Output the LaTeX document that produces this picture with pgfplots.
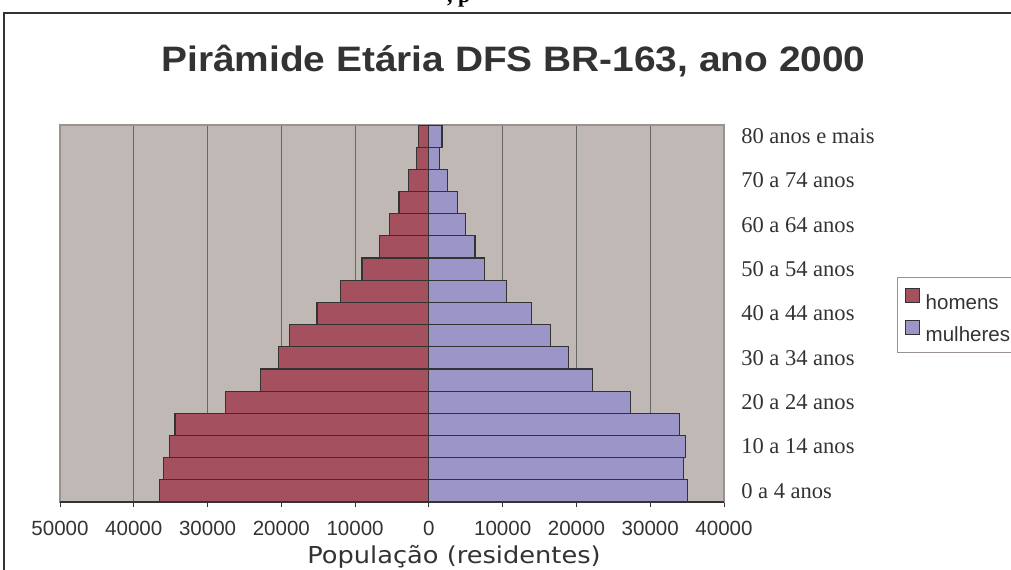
\documentclass[border=0pt]{standalone}
\usepackage{pgfplots}
\pgfplotsset{compat=1.18}
\usepackage{fontspec}
\setmainfont{Liberation Sans}
\newfontfamily\titlefont{Liberation Sans}[FakeStretch=1.1]
\newfontfamily\catfont{Liberation Serif}
\newfontfamily\lblfont{DejaVu Sans}[FakeStretch=1.1]
\definecolor{homcol}{HTML}{A5505E}
\definecolor{mulcol}{HTML}{9B95C8}
\definecolor{bgcol}{HTML}{C0B8B5}
\definecolor{bardraw}{HTML}{333333}
\definecolor{gridcol}{HTML}{666666}
\definecolor{framecol}{HTML}{9A9290}
\begin{document}
\begin{tikzpicture}
\useasboundingbox (0,0) rectangle (758.25pt,426.75pt);
\draw[line width=1.1pt, color=bardraw] (3pt,-5pt) -- (3pt,417pt) -- (800pt,417pt);
\node[anchor=base, font={\catfont\bfseries\fontsize{16.5pt}{18pt}\selectfont}] at (344pt,424.5pt) {, p};
\node[anchor=base, font={\titlefont\bfseries\fontsize{26.5pt}{30pt}\selectfont}, color=bardraw] at (385.1pt,372.75pt) {Pirâmide Etária DFS BR-163, ano 2000};
\node[anchor=base, font={\lblfont\fontsize{17.5pt}{20pt}\selectfont}, color=bardraw] at (340.5pt,4.3pt) {População (residentes)};
\begin{axis}[
  at={(45pt,50.25pt)}, anchor=south west,
  scale only axis, width=498pt, height=282.75pt,
  xmin=-50000, xmax=40000, ymin=-0.5, ymax=16.5,
  xtick={-50000,-40000,...,40000},
  xticklabels={50000,40000,30000,20000,10000,0,10000,20000,30000,40000},
  scaled x ticks=false,
  xtick pos=left,
  xtick align=outside,
  major tick length=3.75pt,
  xtick style={draw=bardraw, line width=0.6pt},
  xticklabel style={font={\fontsize{15.4pt}{17pt}\selectfont}, color=bardraw, inner sep=0pt, yshift=-10.5pt},
  ytick={0,2,...,16},
  yticklabels={0 a 4 anos,10 a 14 anos,20 a 24 anos,30 a 34 anos,40 a 44 anos,50 a 54 anos,60 a 64 anos,70 a 74 anos,80 anos e mais},
  yticklabel pos=right,
  ytick style={draw=none},
  yticklabel style={font={\catfont\fontsize{16.9pt}{19pt}\selectfont}, color=bardraw, anchor=west, inner sep=0pt, xshift=12.75pt},
  xmajorgrids,
  major grid style={draw=gridcol, line width=0.7pt},
  axis background/.style={fill=bgcol},
  axis line style={draw=framecol, line width=0.8pt},
  legend style={at={(axis description cs:1.2605,0.5968)}, anchor=north west,
    draw=framecol, fill=white, line width=0.8pt,
    font={\fontsize{15.4pt}{17pt}\selectfont},
    inner xsep=5.25pt, inner ysep=8pt, row sep=7.5pt,
    nodes={inner sep=0pt, text height=10.5pt, text depth=0pt, text=bardraw},
    /tikz/every odd column/.append style={column sep=4.5pt}},
  legend cell align=left,
  legend image code/.code={\draw[#1, line width=0.9pt] (0pt,0pt) rectangle (10.5pt,10.5pt);},
  after end axis/.code={\draw[bardraw, line width=0.8pt] (axis cs:-50000,-0.5) -- (axis cs:40000,-0.5);},
]
\addplot[xbar, bar width=1, bar shift=0pt, fill=homcol, draw=bardraw, line width=0.9pt] coordinates {
(-36480,0) (-35980,1) (-35210,2) (-34400,3) (-27520,4) (-22820,5) (-20420,6) (-18840,7) (-15170,8)
(-11960,9) (-9070,10) (-6720,11) (-5360,12) (-4050,13) (-2740,14) (-1700,15) (-1380,16)};
\addlegendentry{homens}
\addplot[xbar, bar width=1, bar shift=0pt, fill=mulcol, draw=bardraw, line width=0.9pt] coordinates {
(35030,0) (34490,1) (34760,2) (33990,3) (27340,4) (22140,5) (18930,6) (16530,7) (13910,8)
(10520,9) (7580,10) (6260,11) (4950,12) (3870,13) (2560,14) (1420,15) (1790,16)};
\addlegendentry{mulheres}
\end{axis}
\end{tikzpicture}
\end{document}
